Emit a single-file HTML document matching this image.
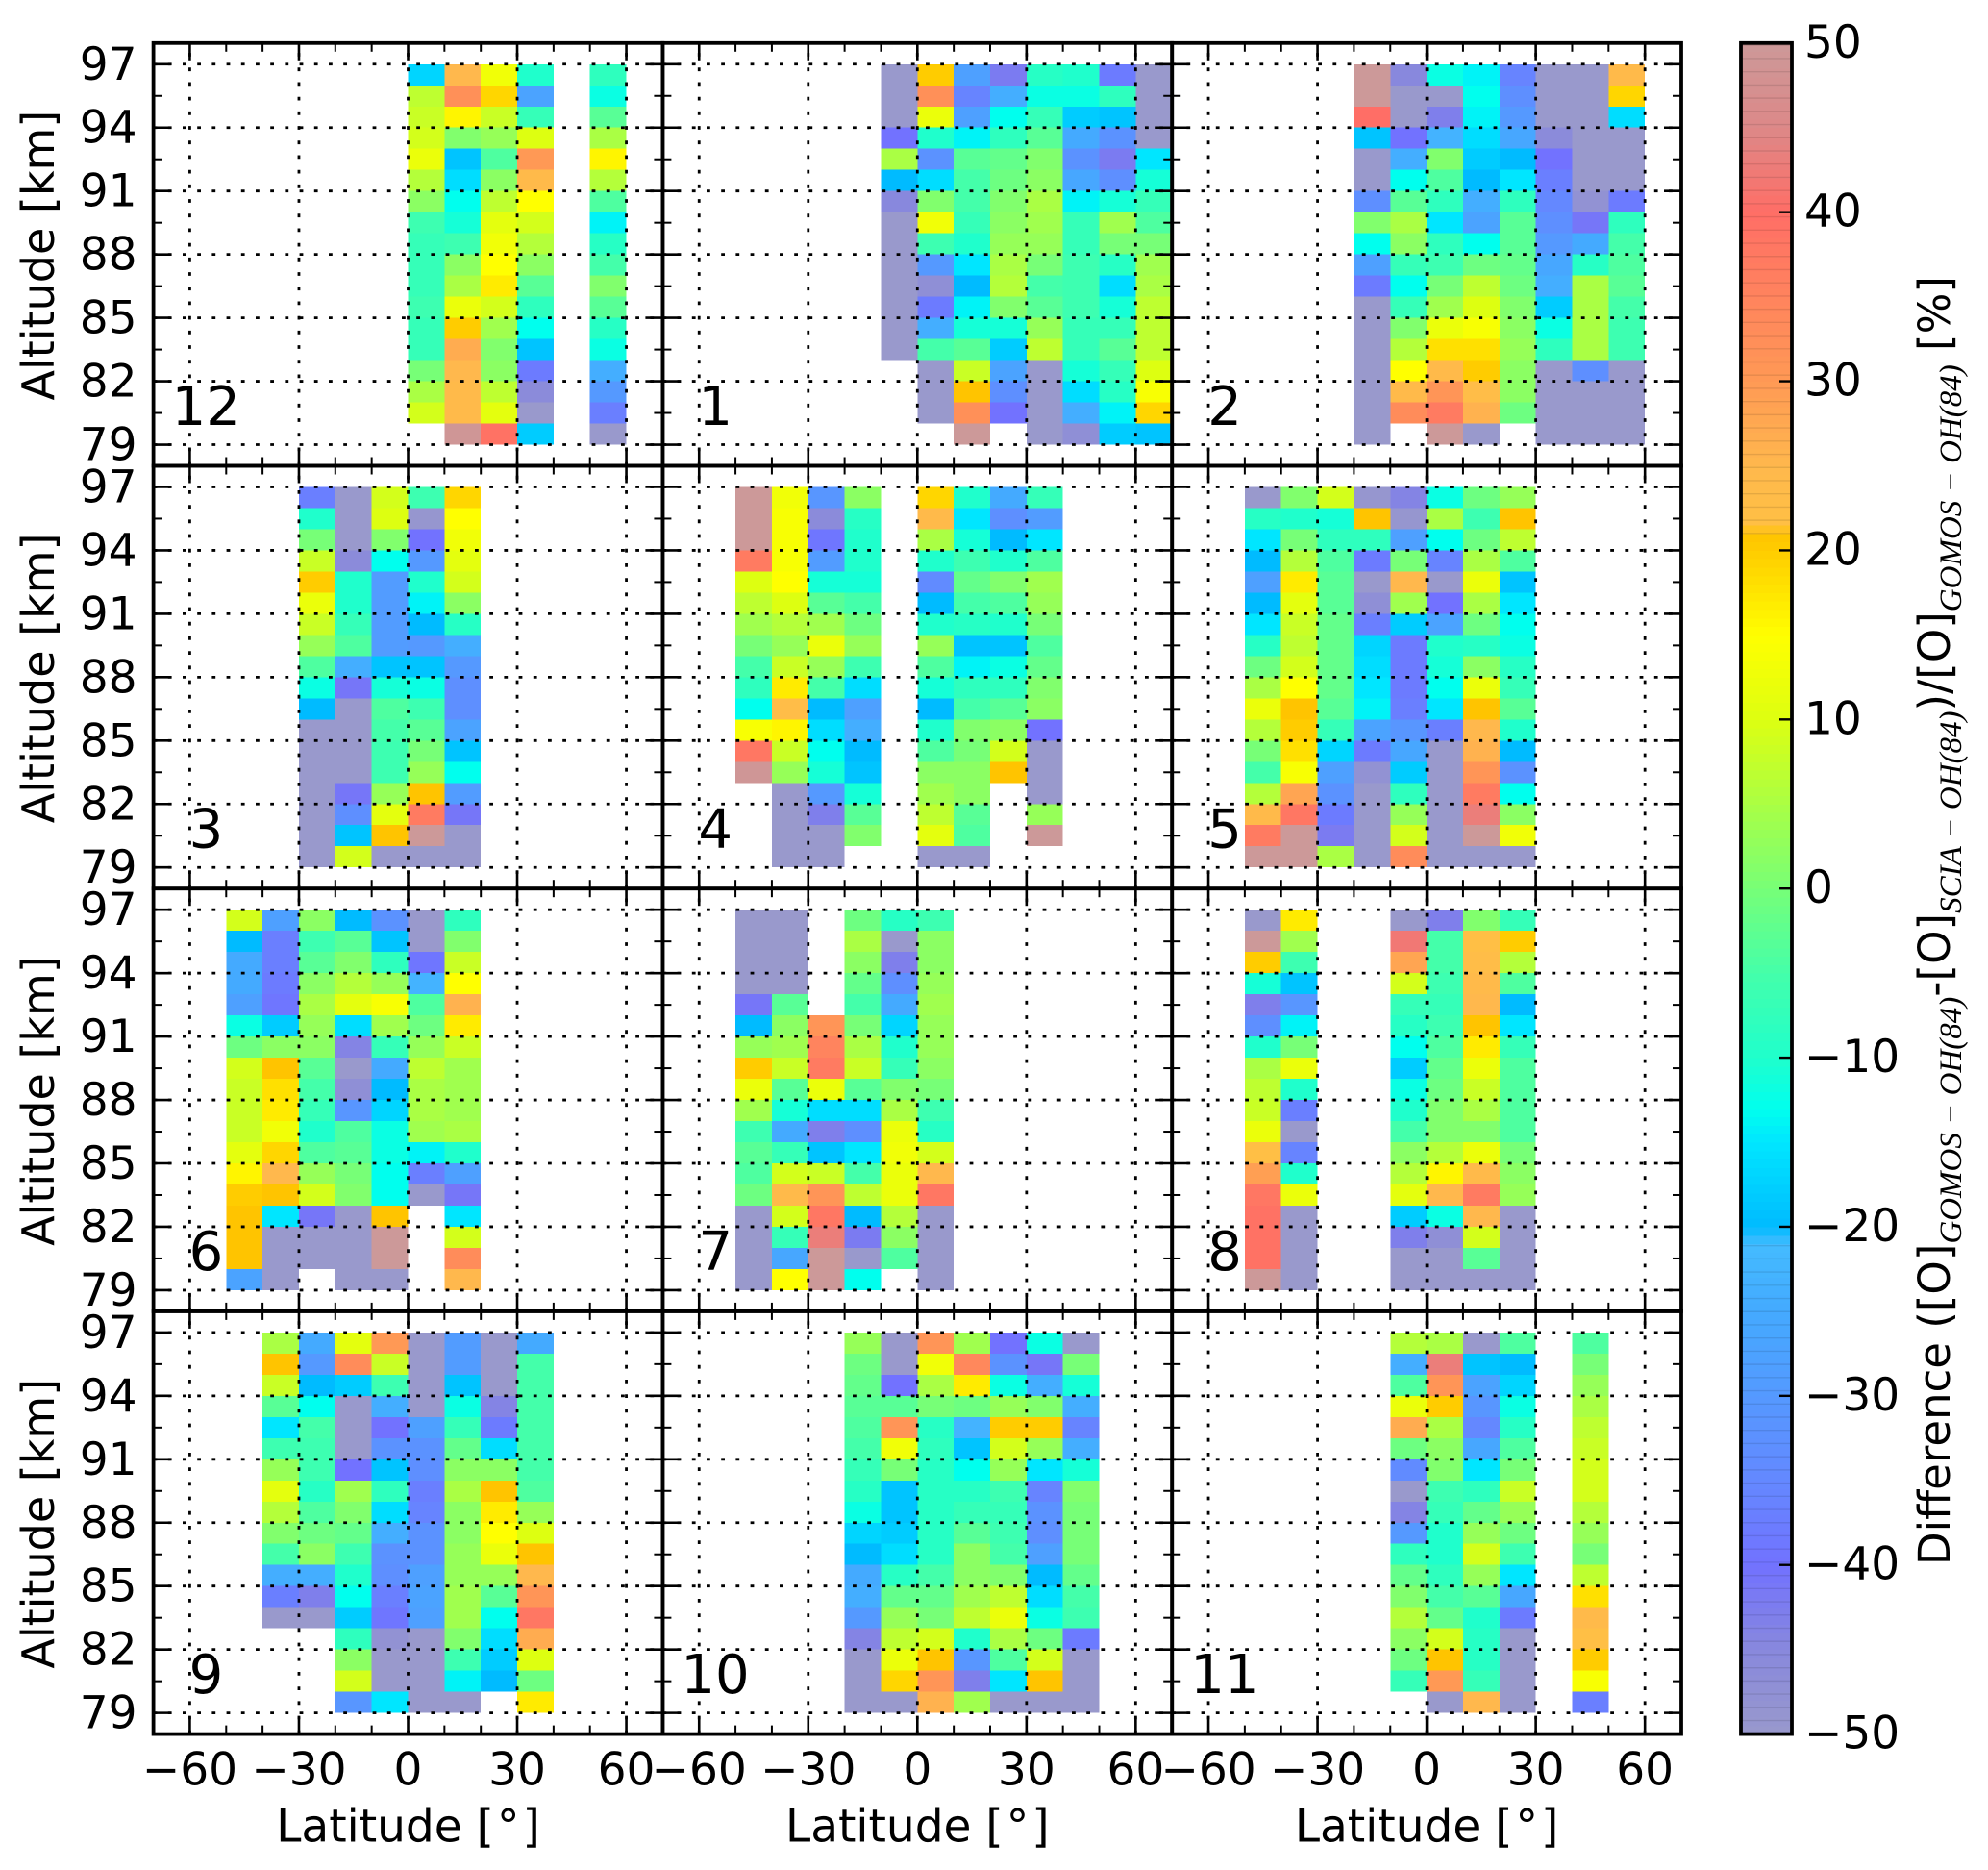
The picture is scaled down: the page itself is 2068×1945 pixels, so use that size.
<!DOCTYPE html>
<html lang="en">
<head>
<meta charset="utf-8">
<title>Latitude-altitude difference panels</title>
<style>
html,body{margin:0;padding:0;background:#fff;}
svg{display:block;}
text{font-family:"DejaVu Sans","Liberation Sans",sans-serif;fill:#000;}
</style>
</head>
<body>
<svg id="figure" xmlns="http://www.w3.org/2000/svg" width="2068" height="1945" viewBox="0 0 2068 1945">
  <g id="panels"></g>
  <g id="colorbar"></g>
  <text transform="translate(2028,1628) rotate(-90)" font-size="45">Difference ([O]<tspan dy="12" font-size="33" font-style="italic" style="font-family:'Liberation Serif',serif">GOMOS − OH(84)</tspan><tspan dy="-12">-[O]</tspan><tspan dy="12" font-size="33" font-style="italic" style="font-family:'Liberation Serif',serif">SCIA − OH(84)</tspan><tspan dy="-12">)/[O]</tspan><tspan dy="12" font-size="33" font-style="italic" style="font-family:'Liberation Serif',serif">GOMOS − OH(84)</tspan><tspan dy="-12"> [%]</tspan></text>
</svg>
<script>
const _ = null;
const months = [12, 1, 2, 3, 4, 5, 6, 7, 8, 9, 10, 11];
const firstLats = [0, -10, -20, -30, -50, -50, -50, -50, -50, -40, -20, -10];
const latTicks = [-60, -30, 0, 30, 60];
const altTicks = [79, 82, 85, 88, 91, 94, 97];
const colorbarTicks = [-50, -40, -30, -20, -10, 0, 10, 20, 30, 40, 50];
const colorStops = [
  [-50,'#9999cc'],[-45,'#8888dd'],[-40,'#7272ff'],[-35,'#6488ff'],[-30,'#5599ff'],[-25,'#44aaff'],
  [-21,'#44bbff'],[-20,'#00bbff'],[-15,'#00e6ff'],[-13,'#00ffee'],[-10,'#1fffcc'],[-5,'#44ffaa'],
  [0,'#77ff77'],[5,'#aaff44'],[10,'#ddff11'],[15,'#ffff00'],[20,'#ffcc00'],[21,'#ffc400'],[21.5,'#ffc044'],
  [25,'#ffb84d'],[30,'#ff9955'],[40,'#ff6e66'],[45,'#dd8888'],[50,'#cc9999']
];
const month12 = [
[-17,25,13,-10,_,-8],[7,32,19,-27,_,-12],[8,16,8,-7,_,-3],[9,1,3,10,_,5],[12,-19,-4,30,_,16],[6,-16,2,24,_,6],
[2,-13,7,15,_,-4],[-6,-11,11,9,_,-14],[-7,-6,13,6,_,-9],[-7,2,15,2,_,-5],[-7,5,17,-3,_,1],[-6,12,9,-8,_,-3],
[-7,20,4,-13,_,-9],[-7,27,1,-19,_,-12],[0,25,2,-38,_,-24],[5,24,7,-46,_,-30],[9,24,11,-50,_,-37],[_,49,39,-18,_,-50]];
const month1 = [
[-50,20,-28,-42,-9,-10,-38,-50],[-50,32,-36,-24,-12,-12,-8,-50],[-50,12,-28,-13,-7,-18,-19,-50],[-40,-10,-14,-8,-3,-25,-32,-50],
[5,-32,-3,-2,1,-32,-42,-15],[-20,-16,-5,-1,2,-26,-33,-11],[-45,1,-5,1,5,-14,-11,-7],[-50,13,-7,2,4,-7,4,-4],
[-50,-6,-10,3,3,-7,0,0],[-50,-30,-15,5,0,-6,-9,4],[-50,-47,-20,6,-5,-6,-16,5],[-50,-38,-14,1,-3,-6,-11,7],
[-50,-24,-11,-11,3,-7,-7,7],[-50,-5,-3,-18,7,-7,-3,7],[_,-50,8,-27,-50,-11,-7,10],[_,-50,21,-33,-50,-16,-9,14],
[_,-50,32,-40,-50,-24,-14,19],[_,_,50,_,-50,-47,-18,-19]];
const month2 = [
[50,-45,-12,-14,-36,-50,-50,24],[50,-50,-50,-13,-33,-50,-50,19],[40,-50,-43,-14,-30,-50,-50,-16],[-19,-40,-23,-16,-26,-46,-50,-50],
[-50,-24,1,-18,-20,-40,-50,-50],[-50,-13,-4,-20,-15,-37,-50,-50],[-33,-3,-8,-24,-8,-35,-48,-38],[1,5,-15,-27,-3,-33,-41,-8],
[-13,2,-8,-13,-3,-30,-25,-5],[-28,-7,-6,-1,-2,-26,-9,-4],[-38,-13,0,7,-1,-24,5,-3],[-50,-7,4,10,1,-18,5,-5],
[-50,1,12,14,2,-12,5,-6],[-50,6,18,18,3,-8,5,-6],[-50,15,24,20,2,-50,-33,-50],[-50,24,31,23,2,-50,-50,-50],
[-50,33,37,26,-1,-50,-50,-50],[-50,_,50,-50,_,-50,-50,-50]];
const month3 = [
[-37,-50,9,-6,19],[-10,-50,10,-49,15],[0,-50,1,-40,13],[8,-46,-13,-30,11],[20,-10,-29,-10,9],[12,-10,-29,-14,2],
[8,-7,-29,-20,-9],[3,-4,-29,-30,-24],[-4,-24,-19,-19,-30],[-12,-41,-11,-12,-33],[-20,-50,-4,-6,-33],[-50,-50,-5,-3,-27],
[-50,-50,-6,0,-19],[-50,-50,-6,3,-13],[-50,-41,3,21,-29],[-50,-33,11,37,-41],[-50,-19,21,50,-50],[-50,9,-50,-50,-50]];
const month4 = [
[50,13,-31,2,_,19,-10,-25,-7],[50,14,-46,-9,_,24,-15,-33,-29],[50,14,-39,-10,_,5,-11,-20,-15],[37,14,-29,-10,_,-10,-6,-10,-4],
[10,15,-11,-11,_,-34,-2,1,4],[7,10,-3,-5,_,-20,-5,-4,3],[4,6,4,-1,_,-10,-9,-10,0],[0,3,12,3,_,3,-19,-19,-4],
[-5,8,3,-6,_,-4,-14,-12,-2],[-8,17,-5,-16,_,-11,-8,-8,1],[-13,23,-20,-28,_,-20,-5,-3,2],[14,16,-16,-24,_,-10,1,2,-40],
[38,8,-13,-20,_,-4,0,9,-50],[49,3,-11,-19,_,2,2,21,-50],[_,-50,-30,-11,_,4,2,_,-50],[_,-50,-43,-3,_,7,-3,_,3],
[_,-50,-50,1,_,11,-4,_,50],[_,-50,-50,_,_,-50,-50,_,_]];
const month5 = [
[-50,1,9,-49,-44,-12,-1,3],[-9,-10,-11,21,-49,5,-6,21],[-15,0,-8,-8,-28,-13,-1,7],[-20,6,-4,-38,0,-36,5,-4],
[-28,17,-3,-50,25,-50,12,-19],[-20,11,-3,-47,4,-40,5,-15],[-15,8,-2,-37,-18,-27,-1,-13],[-9,7,-2,-17,-38,-10,-9,-12],
[-1,9,-2,-16,-38,-11,2,-9],[5,15,-2,-15,-38,-13,12,-7],[12,21,-3,-14,-37,-15,21,-3],[6,20,-7,-27,-31,-37,25,-10],
[0,18,-17,-38,-26,-50,26,-20],[-5,14,-28,-48,-18,-50,31,-32],[6,28,-32,-50,-8,-50,37,-13],[24,38,-38,-50,3,-50,43,2],
[37,50,-42,-50,9,-50,50,13],[50,50,5,-50,33,-50,-50,-50]];
const month6 = [
[9,-28,2,-20,-32,-50,-8],[-20,-37,-6,-3,-19,-50,1],[-25,-37,-3,1,-8,-39,8],[-25,-38,2,6,3,-23,15],[-28,-39,5,11,14,-4,26],
[-12,-18,3,-16,4,-1,17],[-1,2,2,-44,-7,3,8],[9,21,-3,-50,-25,7,4],[8,18,-5,-47,-20,5,4],[8,17,-7,-31,-17,5,4],
[8,13,-10,-4,-12,4,5],[11,19,-4,-3,-12,-14,-10],[16,25,3,0,-13,-37,-28],[20,21,9,1,-13,-50,-41],[21,-15,-41,-50,21,_,-15],
[21,-50,-50,-50,50,_,9],[21,-50,-50,-50,50,_,33],[-27,-50,_,-50,-50,_,25]];
const month7 = [
[-50,-50,_,-1,-9,-6],[-50,-50,_,5,-50,2],[-50,-50,_,2,-43,2],[-50,-50,_,-2,-33,3],[-41,-3,_,-5,-25,4],[-20,2,31,0,-17,3],
[3,4,35,5,-10,3],[20,8,37,8,-7,2],[12,-3,12,-3,1,0],[4,-11,-16,-16,5,-6],[-6,-25,-43,-33,12,-9],[-3,-7,-19,-15,13,9],
[-4,9,8,-5,12,25],[-1,24,31,7,12,38],[-50,9,38,-20,6,-50],[-50,-7,43,-42,2,-50],[-50,-26,50,-50,-4,-50],[-50,15,50,-13,_,-50]];
const month8 = [
[-50,17,_,_,-50,-43,1,-7],[50,4,_,_,42,-5,22,20],[20,-6,_,_,28,-5,23,6],[-11,-19,_,_,9,-6,24,-4],[-43,-31,_,_,-7,-7,25,-20],
[-33,-14,_,_,-9,-6,21,-15],[-10,0,_,_,-13,-4,17,-7],[5,12,_,_,-18,-2,12,-4],[7,-10,_,_,-12,-1,8,-4],[8,-37,_,_,-10,1,5,-4],
[12,-50,_,_,-5,1,1,-4],[22,-36,_,_,2,6,12,0],[29,-10,_,_,6,16,24,2],[38,12,_,_,11,25,37,3],[39,-50,_,_,-18,-12,25,-50],
[39,-50,_,_,-43,-47,9,-50],[39,-50,_,_,-50,-50,-3,-50],[50,-50,_,_,-50,-50,-50,-50]];
const month9 = [
[5,-25,11,30,-50,-29,-50,-25],[21,-30,33,8,-50,-29,-50,-5],[8,-20,-18,-6,-50,-19,-50,-5],[-3,-13,-50,-24,-50,-12,-44,-5],
[-15,-5,-50,-40,-28,-7,-38,-5],[-6,-6,-50,-32,-32,-2,-16,-5],[3,-6,-40,-19,-33,2,2,-5],[11,-9,4,-8,-37,5,21,-4],
[6,-4,1,-16,-36,2,17,3],[1,-1,-2,-24,-32,2,15,10],[-5,2,-6,-32,-32,3,12,21],[-24,-24,-10,-33,-28,3,3,25],
[-37,-43,-13,-37,-27,4,-3,31],[-50,-50,-18,-39,-28,4,-13,38],[_,_,-8,-48,-50,1,-16,27],[_,_,2,-50,-50,-6,-18,10],
[_,_,9,-50,-50,-14,-20,-1],[_,_,-31,-15,-50,-50,_,17]];
const month10 = [
[3,-50,31,4,-40,-12,-50],[-1,-50,13,34,-32,-41,0],[-2,-40,5,17,-12,-24,-11],[-3,-3,0,-1,3,1,-24],[-4,31,-9,-23,20,20,-36],
[-5,13,-8,-19,9,3,-24],[-7,0,-9,-13,3,-15,-11],[-9,-19,-9,-9,-6,-36,1],[-12,-19,-9,-7,-7,-32,0],[-17,-18,-9,-3,-6,-33,0],
[-20,-16,-9,2,-5,-28,0],[-25,-9,-5,2,1,-20,-2],[-24,-2,-2,4,7,-16,-5],[-30,3,0,7,12,-12,-6],[-44,7,9,-10,5,-1,-38],
[-50,12,21,-31,-4,9,-50],[-50,19,31,-43,-15,21,-50],[-50,-50,26,4,-50,-50,-50]];
const month11 = [
[6,5,-50,-4,_,-4],[-24,43,-19,-20,_,0],[-4,31,-27,-17,_,3],[12,20,-31,-12,_,5],[27,5,-35,-9,_,7],[-1,2,-26,-4,_,8],
[-34,1,-15,0,_,9],[-50,-6,-8,8,_,9],[-44,-7,-2,3,_,6],[-30,-10,3,-1,_,3],[-8,-10,9,-6,_,0],[-2,-8,3,-15,_,7],
[1,-5,-3,-26,_,18],[6,-2,-10,-38,_,24],[2,9,-9,-50,_,22],[-1,21,-9,-50,_,20],[-7,30,-7,-50,_,14],[_,-50,25,-50,_,-37]];
const monthValues = [month12, month1, month2, month3, month4, month5, month6, month7, month8, month9, month10, month11];

const NS = 'http://www.w3.org/2000/svg';
const latMin = -70, latMax = 70, altMin = 78, altMax = 98, topAlt = 97, latStep = 10;
const panelW = 529.8, panelH = 439.7, originX = 159.6, originY = 44.8, nCols = 3;
const TICK_FONT = 47;

function hexToRgb(h){return [parseInt(h.slice(1,3),16),parseInt(h.slice(3,5),16),parseInt(h.slice(5,7),16)];}
function colorFor(v){
  const c = Math.max(-50, Math.min(50, v));
  for (let i = 1; i < colorStops.length; i++) {
    if (c <= colorStops[i][0]) {
      const a = colorStops[i-1], b = colorStops[i];
      const t = (c - a[0]) / (b[0] - a[0]);
      const ca = hexToRgb(a[1]), cb = hexToRgb(b[1]);
      return 'rgb(' + ca.map((x,k)=>Math.round(x + (cb[k]-x)*t)).join(',') + ')';
    }
  }
  return colorStops[colorStops.length-1][1];
}
function mk(parent, tag, attrs){
  const el = document.createElementNS(NS, tag);
  for (const k in attrs) el.setAttribute(k, attrs[k]);
  parent.appendChild(el);
  return el;
}
function fmt(v){return (v < 0 ? '\u2212' : '') + Math.abs(v);}

const panelsG = document.getElementById('panels');
months.forEach(function(month, idx){
  const col = idx % nCols, row = Math.floor(idx / nCols);
  const L = originX + col * panelW, T = originY + row * panelH;
  const xs = lat => L + (lat - latMin) / (latMax - latMin) * panelW;
  const ys = alt => T + (altMax - alt) / (altMax - altMin) * panelH;
  const g = mk(panelsG, 'g', {});
  
  

  monthValues[idx].forEach(function(vals, r){
    vals.forEach(function(v, c){
      if (v === null) return;
      const lat = firstLats[idx] + c * latStep;
      const alt = topAlt - r;
      const rect = mk(g, 'rect', {x: xs(lat), y: ys(alt), width: xs(lat + latStep) - xs(lat), height: ys(alt - 1) - ys(alt), fill: colorFor(v), 'shape-rendering': 'crispEdges'});
      
      
    });
  });

  latTicks.forEach(function(t){
    const gl = mk(g, 'line', {x1: xs(t), x2: xs(t), y1: T + panelH, y2: T, stroke: '#000', 'stroke-width': 2.8, 'stroke-dasharray': '3.8 11.4'});
    
    
  });
  altTicks.forEach(function(t){
    const gl = mk(g, 'line', {x1: L, x2: L + panelW, y1: ys(t), y2: ys(t), stroke: '#000', 'stroke-width': 2.8, 'stroke-dasharray': '3.8 11.4'});
    
    
  });

  for (let lat = latMin + 10; lat < latMax; lat += 10) {
    const major = lat % 30 === 0;
    const len = major ? 18 : 9;
    [[T, T + len], [T + panelH, T + panelH - len]].forEach(function(p){
      const tk = mk(g, 'line', {x1: xs(lat), x2: xs(lat), y1: p[0], y2: p[1], stroke: '#000', 'stroke-width': major ? 2.6 : 2});
      
      
    });
  }
  for (let a2 = (altMin + 1) * 2; a2 < altMax * 2; a2 += 3) {
    const alt = a2 / 2;
    const major = Number.isInteger(alt);
    const len = major ? 18 : 9;
    [[L, L + len], [L + panelW, L + panelW - len]].forEach(function(p){
      const tk = mk(g, 'line', {x1: p[0], x2: p[1], y1: ys(alt), y2: ys(alt), stroke: '#000', 'stroke-width': major ? 2.6 : 2});
      
      
    });
  }

  const frame = mk(g, 'rect', {x: L, y: T, width: panelW, height: panelH, fill: 'none', stroke: '#000', 'stroke-width': 3.8});
  
  

  const num = mk(g, 'text', {x: L + (month > 9 ? 19 : 37), y: T + 397, 'font-size': 56});
  
  
  num.textContent = month;

  if (col === 0) {
    altTicks.forEach(function(t){
      const lb = mk(g, 'text', {x: L - 17, y: ys(t) + 16, 'font-size': TICK_FONT, 'text-anchor': 'end'});
      
      
      lb.textContent = t;
    });
    const yl = mk(g, 'text', {transform: 'translate(56,' + (T + panelH / 2 + 1) + ') rotate(-90)', 'font-size': 46, 'text-anchor': 'middle'});
    
    
    yl.textContent = 'Altitude [km]';
  }
  if (row === 3) {
    latTicks.forEach(function(t){
      const lb = mk(g, 'text', {x: xs(t), y: T + panelH + 53, 'font-size': TICK_FONT, 'text-anchor': 'middle'});
      
      
      lb.textContent = fmt(t);
    });
    const xl = mk(g, 'text', {x: L + panelW / 2, y: T + panelH + 112, 'font-size': TICK_FONT, 'text-anchor': 'middle'});
    
    
    xl.appendChild(document.createTextNode('Latitude ['));
    const deg = mk(xl, 'tspan', {dx: 3});
    deg.textContent = '\u00B0';
    const close = mk(xl, 'tspan', {dx: 3});
    close.textContent = ']';
  }
});

const cb = document.getElementById('colorbar');
const cbL = 1811, cbR = 1864, cbT = 44.8, cbB = 1803.6;
const cbY = v => cbT + (50 - v) / 100 * (cbB - cbT);
for (let v = -50; v < 50; v += 0.5) {
  const band = mk(cb, 'rect', {x: cbL, y: cbY(v + 0.5), width: cbR - cbL, height: cbY(v) - cbY(v + 0.5) + 0.5, fill: colorFor(v + 0.25), 'shape-rendering': 'crispEdges'});
  
  
}
for (let v = -49.2; v < 50; v += 0.78) {
  if (v > -20.5 && v < 20.5) continue;
  const seam = mk(cb, 'line', {x1: cbL, x2: cbR, y1: cbY(v), y2: cbY(v), stroke: '#000', 'stroke-opacity': 0.1, 'stroke-width': 1.4});
  
  
}
const cbFrame = mk(cb, 'rect', {x: cbL, y: cbT, width: cbR - cbL, height: cbB - cbT, fill: 'none', stroke: '#000', 'stroke-width': 3.8});


colorbarTicks.forEach(function(t){
  if (t !== -50 && t !== 50) {
    const tk = mk(cb, 'line', {x1: cbR, x2: cbR - 13, y1: cbY(t), y2: cbY(t), stroke: '#000', 'stroke-width': 2.4});
    
    
  }
  const lb = mk(cb, 'text', {x: cbR + 13, y: cbY(t) + 15, 'font-size': TICK_FONT});
  
  
  lb.textContent = fmt(t);
});
</script>
</body>
</html>
